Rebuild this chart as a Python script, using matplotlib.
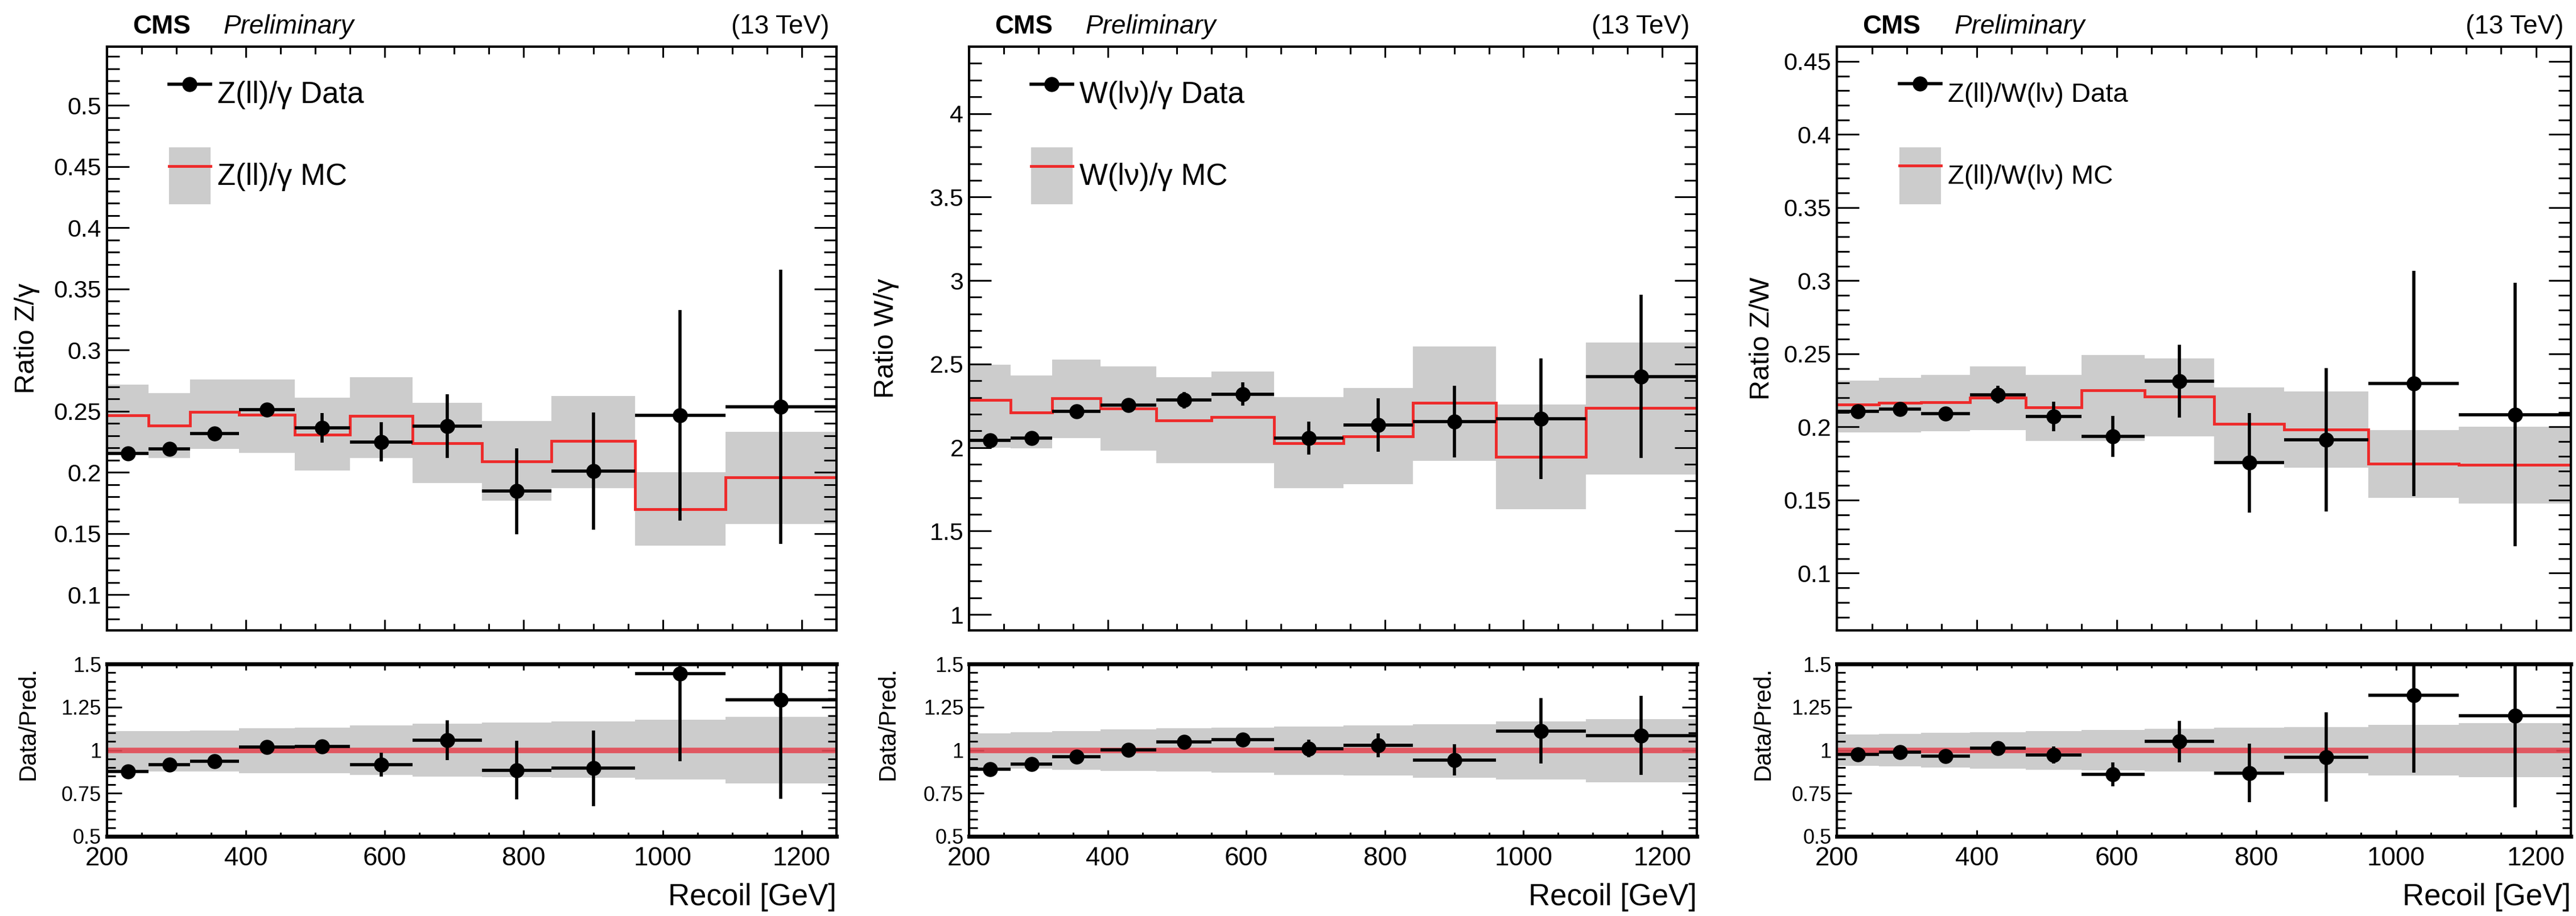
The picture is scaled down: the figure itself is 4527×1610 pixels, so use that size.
import numpy as np
import matplotlib.pyplot as plt
from matplotlib.lines import Line2D
from matplotlib.patches import Patch
from matplotlib.ticker import MultipleLocator, FuncFormatter

plt.rcParams['font.family'] = ['Liberation Sans', 'DejaVu Sans']

# recoil binning shared by all three panels
edges = np.array([200, 260, 320, 390, 470, 550, 640, 740, 840, 960, 1090, 1250])

# --- Z(ll)/gamma ---
zg_mc = [0.2467, 0.2385, 0.2494, 0.2470, 0.2307, 0.2460, 0.2238, 0.2092, 0.2255, 0.1700, 0.1959]
zg_mc_up = [0.2719, 0.2647, 0.2760, 0.2760, 0.2613, 0.2780, 0.2569, 0.2419, 0.2624, 0.2000, 0.2334]
zg_mc_dn = [0.2153, 0.2119, 0.2194, 0.2160, 0.2017, 0.2119, 0.1914, 0.1771, 0.1873, 0.1403, 0.1580]
zg_data = [0.2153, 0.2194, 0.2317, 0.2511, 0.2365, 0.2249, 0.2378, 0.1846, 0.2010, 0.2467, 0.2535]
zg_err = [0.003, 0.003, 0.003, 0.006, 0.012, 0.016, 0.026, 0.035, 0.048, 0.086, 0.112]
zg_rat = [0.878, 0.917, 0.936, 1.019, 1.022, 0.917, 1.059, 0.884, 0.895, 1.445, 1.293]
zg_rat_err = [0.02, 0.02, 0.02, 0.03, 0.04, 0.07, 0.115, 0.17, 0.22, 0.51, 0.575]
zg_band_up = [1.110, 1.110, 1.115, 1.127, 1.130, 1.144, 1.155, 1.160, 1.166, 1.177, 1.194]
zg_band_dn = [0.873, 0.875, 0.875, 0.867, 0.867, 0.856, 0.847, 0.845, 0.840, 0.829, 0.806]

# --- W(lnu)/gamma ---
wg_mc = [2.283, 2.211, 2.295, 2.233, 2.162, 2.184, 2.026, 2.068, 2.268, 1.945, 2.236]
wg_mc_up = [2.495, 2.431, 2.525, 2.485, 2.421, 2.455, 2.302, 2.357, 2.604, 2.258, 2.628]
wg_mc_dn = [2.000, 1.994, 2.056, 1.982, 1.908, 1.908, 1.755, 1.779, 1.920, 1.631, 1.839]
wg_data = [2.043, 2.056, 2.216, 2.253, 2.283, 2.320, 2.056, 2.135, 2.154, 2.172, 2.426]
wg_err = [0.02, 0.02, 0.02, 0.02, 0.05, 0.07, 0.10, 0.16, 0.215, 0.36, 0.49]
wg_rat = [0.891, 0.919, 0.961, 1.003, 1.048, 1.060, 1.010, 1.029, 0.944, 1.112, 1.085]
wg_rat_err = [0.03, 0.03, 0.03, 0.03, 0.03, 0.035, 0.05, 0.07, 0.09, 0.19, 0.23]
wg_band_up = [1.098, 1.103, 1.110, 1.120, 1.126, 1.132, 1.138, 1.143, 1.152, 1.166, 1.182]
wg_band_dn = [0.897, 0.892, 0.886, 0.880, 0.875, 0.869, 0.858, 0.852, 0.841, 0.830, 0.813]

# --- Z(ll)/W(lnu) ---
zw_mc = [0.2155, 0.2164, 0.2170, 0.2201, 0.2135, 0.2249, 0.2207, 0.2021, 0.1984, 0.1749, 0.1740]
zw_mc_up = [0.2315, 0.2335, 0.2355, 0.2413, 0.2355, 0.2493, 0.2470, 0.2270, 0.2241, 0.1978, 0.2001]
zw_mc_dn = [0.1964, 0.1964, 0.1972, 0.1978, 0.1906, 0.1906, 0.1935, 0.1755, 0.1720, 0.1515, 0.1478]
zw_data = [0.2107, 0.2121, 0.2092, 0.2221, 0.2072, 0.1935, 0.2312, 0.1755, 0.1912, 0.2298, 0.2084]
zw_err = [0.003, 0.003, 0.003, 0.006, 0.010, 0.014, 0.025, 0.034, 0.049, 0.077, 0.090]
zw_rat = [0.977, 0.988, 0.966, 1.011, 0.972, 0.859, 1.050, 0.867, 0.960, 1.319, 1.199]
zw_rat_err = [0.02, 0.02, 0.02, 0.03, 0.05, 0.07, 0.12, 0.17, 0.26, 0.45, 0.53]
zw_band_up = [1.090, 1.095, 1.100, 1.105, 1.110, 1.117, 1.124, 1.130, 1.135, 1.146, 1.157]
zw_band_dn = [0.910, 0.905, 0.900, 0.893, 0.887, 0.882, 0.876, 0.870, 0.865, 0.853, 0.842]

panels = [
    dict(mc=zg_mc, up=zg_mc_up, dn=zg_mc_dn, data=zg_data, err=zg_err,
         rat=zg_rat, rat_err=zg_rat_err, bup=zg_band_up, bdn=zg_band_dn,
         ylim=(0.071, 0.548), major=0.05, minor=0.01, ylabel='Ratio Z/\u03b3',
         ldata='Z(ll)/\u03b3 Data', lmc='Z(ll)/\u03b3 MC', lfs=38,
         left=0.0415, width=0.2832, ylx=-0.092),
    dict(mc=wg_mc, up=wg_mc_up, dn=wg_mc_dn, data=wg_data, err=wg_err,
         rat=wg_rat, rat_err=wg_rat_err, bup=wg_band_up, bdn=wg_band_dn,
         ylim=(0.906, 4.40), major=0.5, minor=0.1, ylabel='Ratio W/\u03b3',
         ldata='W(l\u03bd)/\u03b3 Data', lmc='W(l\u03bd)/\u03b3 MC', lfs=38,
         left=0.3762, width=0.2825, ylx=-0.096),
    dict(mc=zw_mc, up=zw_mc_up, dn=zw_mc_dn, data=zw_data, err=zw_err,
         rat=zw_rat, rat_err=zw_rat_err, bup=zw_band_up, bdn=zw_band_dn,
         ylim=(0.061, 0.460), major=0.05, minor=0.01, ylabel='Ratio Z/W',
         ldata='Z(ll)/W(l\u03bd) Data', lmc='Z(ll)/W(l\u03bd) MC', lfs=34,
         left=0.7131, width=0.2849, ylx=-0.085),
]

GREY = '#cccccc'
RED = '#ee2a2a'
DPI = 100
fmt = FuncFormatter(lambda v, p: '%g' % round(v, 4))

fig = plt.figure(figsize=(45.27, 16.10), dpi=DPI)

centers = 0.5 * (edges[:-1] + edges[1:])
halfw = 0.5 * np.diff(edges)


def frame(ax, ylen, xlen):
    for s in ax.spines.values():
        s.set_linewidth(3)
    ax.tick_params(which='both', direction='in', top=True, right=True, width=2.2)
    ax.tick_params(axis='y', which='major', length=ylen[0])
    ax.tick_params(axis='y', which='minor', length=ylen[1])
    ax.tick_params(axis='x', which='major', length=xlen[0])
    ax.tick_params(axis='x', which='minor', length=xlen[1])
    ax.set_xlim(200, 1250)
    ax.xaxis.set_major_locator(MultipleLocator(200))
    ax.xaxis.set_minor_locator(MultipleLocator(50))
    ax.yaxis.set_major_formatter(fmt)


for p in panels:
    top = fig.add_axes([p['left'], 0.312, p['width'], 0.637])
    bot = fig.add_axes([p['left'], 0.087, p['width'], 0.188])

    # upper: MC band, MC line, data
    top.stairs(p['up'], edges, baseline=p['dn'], fill=True, color=GREY, lw=0, zorder=1)
    top.stairs(p['mc'], edges, baseline=None, color=RED, lw=3.5, zorder=2)
    top.errorbar(centers, p['data'], xerr=halfw, yerr=p['err'], fmt='o', color='black',
                 ms=18, elinewidth=4, capsize=0, zorder=3)
    frame(top, (28, 16), (14, 9))
    top.set_ylim(*p['ylim'])
    top.yaxis.set_major_locator(MultipleLocator(p['major']))
    top.yaxis.set_minor_locator(MultipleLocator(p['minor']))
    top.tick_params(axis='x', labelbottom=False)
    top.tick_params(axis='y', labelsize=31, pad=7)
    top.set_ylabel(p['ylabel'], fontsize=35)
    top.yaxis.set_label_coords(p['ylx'], 0.5)

    # legend: grey box ~100 px tall, entries ~144 px apart
    fs_px = p['lfs'] * DPI / 72.0
    hh = (100 / fs_px - 0.245) / 0.65
    h_data = Line2D([], [], color='black', marker='o', ms=18, lw=4)
    h_mc = (Patch(facecolor=GREY, edgecolor='none'), Line2D([], [], color=RED, lw=3.5))
    top.legend([h_data, h_mc], [p['ldata'], p['lmc']], loc='upper left',
               bbox_to_anchor=(0.085, 0.968), frameon=False, fontsize=p['lfs'],
               handlelength=73 / fs_px, handleheight=hh,
               labelspacing=44 / fs_px, handletextpad=12 / fs_px,
               borderpad=0, borderaxespad=0)

    top.text(0.035, 1.034, 'CMS', transform=top.transAxes, fontsize=33,
             fontweight='bold', va='center', ha='left')
    top.text(0.16, 1.034, 'Preliminary', transform=top.transAxes, fontsize=33,
             style='italic', va='center', ha='left')
    top.text(0.99, 1.034, '(13 TeV)', transform=top.transAxes, fontsize=33,
             va='center', ha='right')

    # lower: data / prediction
    mc = np.array(p['mc'])
    bot.stairs(p['bup'], edges, baseline=p['bdn'], fill=True, color=GREY, lw=0, zorder=1)
    bot.stairs(mc / mc, edges, baseline=None, color='#e34a55', lw=7, alpha=0.9, zorder=2)
    bot.errorbar(centers, p['rat'], xerr=halfw, yerr=p['rat_err'], fmt='o', color='black',
                 ms=18, elinewidth=4, capsize=0, zorder=3)
    frame(bot, (19, 11), (8, 5))
    bot.spines['top'].set_linewidth(5)
    bot.spines['bottom'].set_linewidth(5)
    bot.set_ylim(0.5, 1.5)
    bot.yaxis.set_major_locator(MultipleLocator(0.25))
    bot.yaxis.set_minor_locator(MultipleLocator(0.05))
    bot.tick_params(axis='y', labelsize=26, pad=7)
    bot.tick_params(axis='x', labelsize=33, pad=12)
    bot.set_ylabel('Data/Pred.', fontsize=30, loc='top')
    bot.yaxis.set_label_coords(p['ylx'], 0.985)
    bot.set_xlabel('Recoil [GeV]', fontsize=38, loc='right')
    bot.xaxis.set_label_coords(1.0, -0.27)

fig.savefig('out.png', dpi=DPI)
